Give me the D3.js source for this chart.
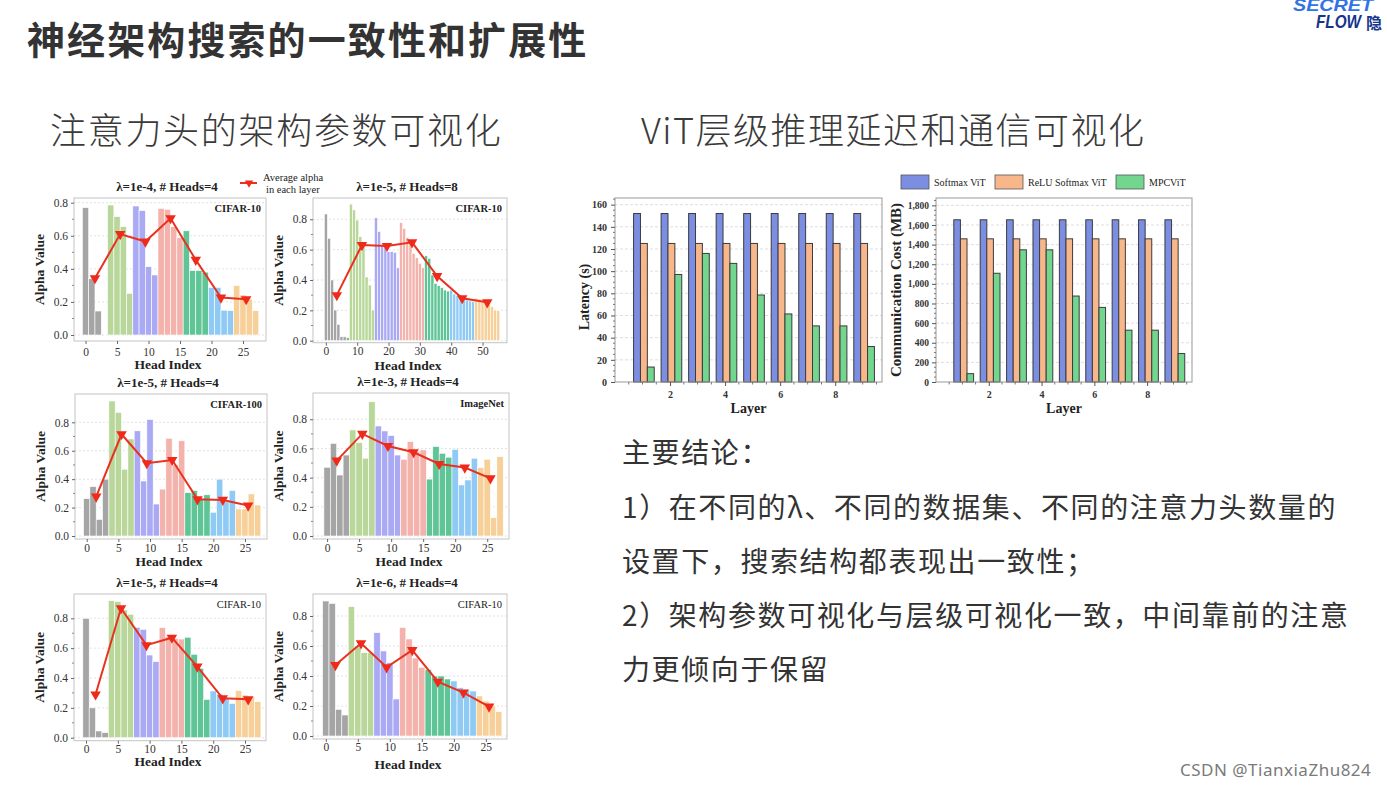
<!DOCTYPE html>
<html><head><meta charset="utf-8">
<script src="https://cdn.jsdelivr.net/npm/d3@7"></script>
<style>body{margin:0;background:#fff}svg{display:block}</style>
</head><body>
<script>
// ---------------- DATA ----------------
const layerColors = ["#a5a5a5","#b9d79a","#aaaaf4","#f3b3ac","#5fc496","#8fcaf5","#f6cf99"];
const alphaTicks = [0, 0.2, 0.4, 0.6, 0.8];
const headTicks28 = [0, 5, 10, 15, 20, 25];
const headTicks56 = [0, 10, 20, 30, 40, 50];

const titles = ["λ=1e-4, # Heads=4", "λ=1e-5, # Heads=8", "λ=1e-5, # Heads=4", "λ=1e-3, # Heads=4", "λ=1e-5, # Heads=4", "λ=1e-6, # Heads=4"];
const datasets = ["CIFAR-10", "CIFAR-10", "CIFAR-100", "ImageNet", "CIFAR-10", "CIFAR-10"];

const alphaA = [0.77,0.34,0.145,0.0, 0.786,0.716,0.655,0.252, 0.78,0.752,0.413,0.363, 0.766,0.76,0.655,0.589, 0.63,0.39,0.39,0.38, 0.288,0.288,0.15,0.147, 0.298,0.242,0.216,0.147];
const avgA = [0.343,0.61,0.565,0.706,0.454,0.226,0.216];

const alphaB = [0.835,0.675,0.40,0.202,0.108,0.026,0.026,0.02,
  0.90,0.862,0.795,0.686,0.63,0.42,0.367,0.202,
  0.81,0.72,0.635,0.62,0.587,0.587,0.582,0.48,
  0.778,0.74,0.68,0.664,0.576,0.547,0.51,0.48,
  0.56,0.543,0.433,0.378,0.363,0.35,0.334,0.327,
  0.334,0.308,0.297,0.28,0.28,0.268,0.262,0.257,
  0.28,0.275,0.262,0.257,0.24,0.224,0.202,0.198];
const avgB = [0.30,0.63,0.624,0.648,0.426,0.28,0.253];

const alphaC = [0.263,0.347,0.117,0.40, 0.95,0.87,0.47,0.683, 0.74,0.387,0.82,0.225, 0.33,0.688,0.50,0.67, 0.305,0.32,0.265,0.29, 0.167,0.40,0.24,0.32, 0.19,0.19,0.296,0.218];
const avgC = [0.277,0.716,0.512,0.535,0.258,0.254,0.214];

const alphaD = [0.471,0.635,0.418,0.555, 0.727,0.64,0.533,0.92, 0.754,0.72,0.688,0.555, 0.526,0.647,0.578,0.59, 0.39,0.613,0.567,0.54, 0.594,0.35,0.384,0.533, 0.469,0.526,0.126,0.544];
const avgD = [0.517,0.70,0.617,0.574,0.494,0.469,0.395];

const alphaE = [0.80,0.20,0.045,0.034, 0.918,0.912,0.856,0.827, 0.74,0.726,0.554,0.51, 0.737,0.677,0.666,0.661, 0.673,0.559,0.465,0.257, 0.313,0.293,0.264,0.23, 0.315,0.286,0.275,0.241];
const avgE = [0.29,0.867,0.62,0.67,0.476,0.264,0.257];

const alphaF = [0.90,0.884,0.178,0.14, 0.862,0.60,0.556,0.556, 0.689,0.567,0.49,0.247, 0.724,0.647,0.52,0.458, 0.444,0.40,0.40,0.38, 0.367,0.322,0.311,0.30, 0.267,0.233,0.20,0.162];
const avgF = [0.473,0.618,0.458,0.573,0.362,0.289,0.196];

const layers = [1,2,3,4,5,6,7,8,9];
const seriesNames = ["Softmax ViT", "ReLU Softmax ViT", "MPCViT"];
const seriesColors = ["#7b8ee2", "#f8b68b", "#72d68f"];
const softmaxLatency = [152,152,152,152,152,152,152,152,152];
const reluLatency = [125,125,125,125,125,125,125,125,125];
const mpcLatency = [13.5,97,116,107,78.5,61.4,50.6,50.6,32];
const softmaxComm = [1653,1653,1653,1653,1653,1653,1653,1653,1653];
const reluComm = [1459,1459,1459,1459,1459,1459,1459,1459,1459];
const mpcComm = [85,1108,1347,1347,876,760,528,528,290];
const latencyTicks = [0,20,40,60,80,100,120,140,160];
const commTicks = [0,200,400,600,800,1000,1200,1400,1600,1800];
const layerTicks = [2,4,6,8];

// ---------------- SETUP ----------------
const serif = "'Liberation Serif','Times New Roman',serif";
const cjk = "'Noto Sans CJK SC','Noto Sans SC',sans-serif";
const svg = d3.select("body").append("svg").attr("width",1387).attr("height",786);
svg.append("rect").attr("width",1387).attr("height",786).attr("fill","#fff");

// ---------------- SLIDE TEXT ----------------
function txt(x,y,s,size,opts={}) {
  const t = svg.append("text").attr("x",x).attr("y",y).text(s)
    .attr("font-family",opts.family||cjk).attr("font-size",size)
    .attr("font-weight",opts.weight||"normal").attr("fill",opts.fill||"#333")
    .attr("text-anchor",opts.anchor||"start")
    .style("letter-spacing",(opts.ls||0)+"px")
    .attr("font-style",opts.style||"normal");
  if (opts.len) t.attr("textLength",opts.len).attr("lengthAdjust","spacingAndGlyphs");
  return t;
}
txt(27,54,"神经架构搜索的一致性和扩展性",38,{weight:"bold",ls:2.1,fill:"#333"});
txt(50,144,"注意力头的架构参数可视化",36,{ls:1.7,fill:"#3a3a3a",weight:300});
txt(641,144,"ViT层级推理延迟和通信可视化",36,{ls:1.5,fill:"#3a3a3a",weight:300});

const concl = ["主要结论：","1）在不同的λ、不同的数据集、不同的注意力头数量的","设置下，搜索结构都表现出一致性；","2）架构参数可视化与层级可视化一致，中间靠前的注意","力更倾向于保留"];
const conclY = [463,518,572,626,680];
concl.forEach((s,i)=>txt(622,conclY[i],s,28,{ls:1.6,fill:"#333"}));

// logo
txt(1293,11,"SECRET",17,{family:"'Liberation Sans',Arial,sans-serif",weight:"bold",style:"italic",fill:"#2f73e6",len:80});
txt(1316,28,"FLOW",18,{family:"'Liberation Sans',Arial,sans-serif",weight:"bold",style:"italic",fill:"#16358c",len:45});
txt(1366,29,"隐",16,{weight:"bold",fill:"#16358c"});
// watermark
txt(1180,776,"CSDN @TianxiaZhu824",17,{family:"'Noto Sans','DejaVu Sans',sans-serif",fill:"#7a7a7a",ls:0.5});

// ---------------- ALPHA CHARTS ----------------
const alphaCfg = [
  {vals:alphaA, avg:avgA, hpl:4, xt:headTicks28, left:74, right:266, top:198, y0:335, ppu:165.4, xDom:[-1.83,28.65], bold:true, bOff:6, pad:4, hOff:34},
  {vals:alphaB, avg:avgB, hpl:8, xt:headTicks56, left:313, right:507, top:198, y0:340.7, ppu:151.75, xDom:[-4.1,57.8], bold:true, bOff:2, pad:1, hOff:29},
  {vals:alphaC, avg:avgC, hpl:4, xt:headTicks28, left:75, right:267, top:394, y0:536, ppu:142.1, xDom:[-1.85,28.48], bold:true, bOff:3, pad:2, hOff:29.5},
  {vals:alphaD, avg:avgD, hpl:4, xt:headTicks28, left:313, right:509, top:393, y0:536, ppu:145.9, xDom:[-2.2,28.4], bold:true, bOff:3, pad:2, hOff:29.5},
  {vals:alphaE, avg:avgE, hpl:4, xt:headTicks28, left:74, right:266, top:594, y0:737.7, ppu:149.25, xDom:[-1.89,28.3], bold:false, bOff:3, pad:1, hOff:28.5},
  {vals:alphaF, avg:avgF, hpl:4, xt:headTicks28, left:313, right:507, top:594, y0:736, ppu:150, xDom:[-2.0,28.3], bold:false, bOff:3, pad:1, hOff:33}
];

function drawAlpha(c, idx) {
  const g = svg.append("g");
  const bottom = c.y0 + c.bOff;
  const x = d3.scaleLinear().domain(c.xDom).range([c.left,c.right]);
  const y = d3.scaleLinear().domain([-(bottom-c.y0)/c.ppu, (c.y0-c.top)/c.ppu]).range([bottom,c.top]);
  g.selectAll("line.grid").data(alphaTicks).join("line").attr("class","grid")
    .attr("x1",c.left).attr("x2",c.right).attr("y1",d=>y(d)).attr("y2",d=>y(d))
    .attr("stroke","#dcdcdc").attr("stroke-width",0.8).attr("stroke-dasharray","2,2");
  g.selectAll("rect.bar").data(c.vals).join("rect").attr("class","bar")
    .attr("x",(d,i)=>x(i-0.5)).attr("width",(d,i)=>x(i+0.5)-x(i-0.5))
    .attr("y",d=>y(d)).attr("height",d=>y(0)-y(d))
    .attr("fill",(d,i)=>layerColors[Math.floor(i/c.hpl)])
    .attr("stroke","#fff").attr("stroke-width",0.6);
  g.append("rect").attr("x",c.left).attr("y",c.top).attr("width",c.right-c.left).attr("height",bottom-c.top)
    .attr("fill","none").attr("stroke","#c4c4c4").attr("stroke-width",1);
  // y axis
  const ya = g.append("g").attr("transform",`translate(${c.left},0)`)
    .call(d3.axisLeft(y).tickValues(alphaTicks).tickFormat(d3.format(".1f")).tickSize(3).tickPadding(3));
  ya.select(".domain").remove();
  ya.selectAll("line").attr("stroke","#666");
  ya.selectAll("text").attr("font-family",serif).attr("font-size",11.5).attr("fill","#333");
  g.selectAll("line.minor").data([0.1,0.3,0.5,0.7]).join("line").attr("class","minor")
    .attr("x1",c.left-2).attr("x2",c.left).attr("y1",d=>y(d)).attr("y2",d=>y(d)).attr("stroke","#888");
  // x axis
  const xa = g.append("g").attr("transform",`translate(0,${bottom})`)
    .call(d3.axisBottom(x).tickValues(c.xt).tickFormat(d3.format("d")).tickSize(3).tickPadding(c.pad));
  xa.select(".domain").remove();
  xa.selectAll("line").attr("stroke","#666");
  xa.selectAll("text").attr("font-family",serif).attr("font-size",11.5).attr("fill","#333");
  // labels
  g.append("text").attr("x",(c.left+c.right)/2 - 3).attr("y",c.top-7).attr("text-anchor","middle")
    .attr("font-family",serif).attr("font-weight","bold").attr("font-size",13).attr("fill","#222").text(titles[idx]);
  g.append("text").attr("x",(c.left+c.right)/2 - 2).attr("y",c.y0+c.hOff).attr("text-anchor","middle")
    .attr("font-family",serif).attr("font-weight","bold").attr("font-size",13.5).attr("fill","#222").text("Head Index");
  g.append("text").attr("transform",`translate(${c.left-30},${(c.top+bottom)/2}) rotate(-90)`).attr("text-anchor","middle")
    .attr("font-family",serif).attr("font-weight","bold").attr("font-size",13.5).attr("fill","#222").text("Alpha Value");
  g.append("text").attr("x",c.right-5).attr("y",c.top+14).attr("text-anchor","end")
    .attr("font-family",serif).attr("font-weight",c.bold?"bold":"normal").attr("font-size",10.5).attr("fill","#222").text(datasets[idx]);
  // average line
  const lx = (d,l)=> x(l*c.hpl + (c.hpl-1)/2);
  g.append("path").datum(c.avg).attr("d", d3.line().x(lx).y(d=>y(d)))
    .attr("fill","none").attr("stroke","#e8321f").attr("stroke-width",2);
  g.selectAll("path.mk").data(c.avg).join("path").attr("class","mk")
    .attr("transform",(d,l)=>`translate(${lx(d,l)},${y(d)}) rotate(180)`)
    .attr("d", d3.symbol(d3.symbolTriangle, 48)).attr("fill","#ef2a1a");
}
alphaCfg.forEach(drawAlpha);

// legend for average alpha
{
  const g = svg.append("g");
  g.append("line").attr("x1",240).attr("x2",257).attr("y1",183).attr("y2",183).attr("stroke","#e8321f").attr("stroke-width",2);
  g.append("path").attr("transform","translate(249,183) rotate(180)").attr("d",d3.symbol(d3.symbolTriangle,30)).attr("fill","#ef2a1a");
  g.append("text").attr("x",263).attr("y",181).attr("font-family",serif).attr("font-size",10.5).attr("fill","#222").text("Average alpha");
  g.append("text").attr("x",266).attr("y",193).attr("font-family",serif).attr("font-size",10.5).attr("fill","#222").text("in each layer");
}

// ---------------- LAYER BAR CHARTS ----------------
function drawLayerChart(c) {
  const g = svg.append("g");
  const x = d3.scaleLinear().domain([0,9.7]).range([c.left,c.right]);
  const y = d3.scaleLinear().domain(c.yDom).range([c.bottom,c.top]);
  g.selectAll("line.grid").data(c.ticks.slice(1)).join("line").attr("class","grid")
    .attr("x1",c.left).attr("x2",c.right).attr("y1",d=>y(d)).attr("y2",d=>y(d))
    .attr("stroke","#d6d6d6").attr("stroke-width",0.8).attr("stroke-dasharray","3,2");
  const series = [c.s0,c.s1,c.s2];
  const bw = 0.25;
  series.forEach((vals,si)=>{
    g.selectAll("rect.s"+si).data(vals).join("rect").attr("class","s"+si)
      .attr("x",(d,i)=>x(layers[i] + (si-1)*bw - bw/2 + 0.05))
      .attr("width",x(bw)-x(0))
      .attr("y",d=>y(d)).attr("height",d=>y(0)-y(d))
      .attr("fill",seriesColors[si]).attr("stroke","#3c3c3c").attr("stroke-width",1);
  });
  g.append("rect").attr("x",c.left).attr("y",c.top).attr("width",c.right-c.left).attr("height",c.bottom-c.top)
    .attr("fill","none").attr("stroke","#999").attr("stroke-width",1);
  // y axis
  const ya = g.append("g").attr("transform",`translate(${c.left},0)`)
    .call(d3.axisLeft(y).tickValues(c.ticks).tickFormat(c.fmt).tickSize(4).tickPadding(c.pad));
  ya.select(".domain").remove();
  ya.selectAll("line").attr("stroke","#555");
  ya.selectAll("text").attr("font-family",serif).attr("font-weight","bold").attr("font-size",c.fs).attr("fill","#333");
  g.selectAll("line.ym").data(c.minor).join("line").attr("class","ym")
    .attr("x1",c.left-2).attr("x2",c.left).attr("y1",d=>y(d)).attr("y2",d=>y(d)).attr("stroke","#777");
  // x axis
  const xa = g.append("g").attr("transform",`translate(0,${c.bottom})`)
    .call(d3.axisBottom(x).tickValues(layerTicks).tickFormat(d3.format("d")).tickSize(4).tickPadding(5));
  xa.select(".domain").remove();
  xa.selectAll("line").attr("stroke","#555");
  xa.selectAll("text").attr("font-family",serif).attr("font-weight","bold").attr("font-size",10).attr("fill","#333");
  g.selectAll("line.xm").data(d3.range(0.5,9.7,0.5).filter(v=>v%2!==0)).join("line").attr("class","xm")
    .attr("x1",d=>x(d)).attr("x2",d=>x(d)).attr("y1",c.bottom).attr("y2",c.bottom+2.5).attr("stroke","#777");
  g.append("text").attr("x",(c.left+c.right)/2).attr("y",c.bottom+31).attr("text-anchor","middle")
    .attr("font-family",serif).attr("font-weight","bold").attr("font-size",14).attr("fill","#222").text("Layer");
  g.append("text").attr("transform",`translate(${c.ylx},${c.yly}) rotate(-90)`).attr("text-anchor","middle")
    .attr("font-family",serif).attr("font-weight","bold").attr("font-size",c.ylfs).attr("fill","#222").text(c.ylabel);
}
drawLayerChart({left:615,right:882,top:198,bottom:382,yDom:[0,166],ticks:latencyTicks,minor:d3.range(0,166,5).filter(v=>v%20!==0),
  fmt:d3.format("d"),pad:4,fs:10,s0:softmaxLatency,s1:reluLatency,s2:mpcLatency,ylabel:"Latency (s)",ylx:589,yly:297,ylfs:14});
drawLayerChart({left:936,right:1192,top:198,bottom:382,yDom:[0,1875],ticks:commTicks,minor:d3.range(0,1875,50).filter(v=>v%200!==0),
  fmt:d3.format(","),pad:3,fs:9.5,s0:softmaxComm,s1:reluComm,s2:mpcComm,ylabel:"Communication Cost (MB)",ylx:901,yly:290,ylfs:15});

// series legend
{
  const lx = [901,995,1116];
  const g = svg.append("g");
  seriesNames.forEach((n,i)=>{
    g.append("rect").attr("x",lx[i]).attr("y",175).attr("width",28).attr("height",14)
      .attr("fill",seriesColors[i]).attr("stroke","#555").attr("stroke-width",0.8);
    g.append("text").attr("x",lx[i]+33).attr("y",186).attr("font-family",serif).attr("font-size",10).attr("fill","#222").text(n);
  });
}
</script>
</body></html>
